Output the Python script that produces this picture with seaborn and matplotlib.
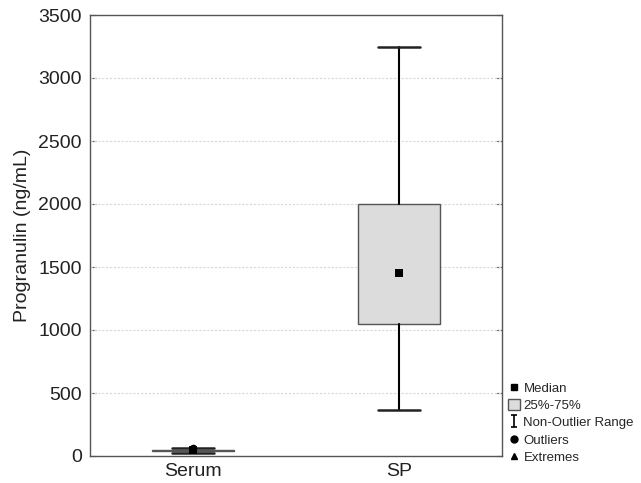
import matplotlib
matplotlib.use("Agg")
import matplotlib.pyplot as plt
import seaborn as sns
import numpy as np
import pandas as pd
from matplotlib.lines import Line2D
from matplotlib.patches import Patch
from matplotlib.path import Path

# ---- data ----
groups = ["Serum", "SP"]
medians = [44, 1450]
q1 = [38, 1050]
q3 = [48, 2000]
whisker_low = [22, 365]
whisker_high = [62, 3250]
outlier_group = ["Serum"]
outlier_values = [66]
y_ticks = [0, 500, 1000, 1500, 2000, 2500, 3000, 3500]
legend_labels = ["Median", "25%-75%", "Non-Outlier Range", "Outliers", "Extremes"]

sns.set_style("white")
plt.rcParams["font.family"] = ["Liberation Sans", "DejaVu Sans"]

fig = plt.figure(figsize=(6.41, 4.83), dpi=100)
ax = fig.add_axes([90 / 641, 1 - 456 / 483, 412 / 641, 441 / 483])

stats = []
for i, g in enumerate(groups):
    stats.append(dict(label=g, med=medians[i], q1=q1[i], q3=q3[i],
                      whislo=whisker_low[i], whishi=whisker_high[i], fliers=[]))

ax.bxp(stats, positions=range(len(groups)), widths=0.40, capwidths=0.20,
       patch_artist=True, showfliers=False,
       boxprops=dict(facecolor="#dcdcdc", edgecolor="#555555", linewidth=1.0),
       whiskerprops=dict(color="black", linewidth=1.5),
       capprops=dict(color="#222222", linewidth=1.8),
       medianprops=dict(linewidth=0, color="none"), zorder=3)

med_df = pd.DataFrame({"group": groups, "value": medians})
med_df["x"] = [groups.index(g) for g in med_df["group"]]
sns.scatterplot(data=med_df, x="x", y="value", marker="s", color="black",
                s=30, edgecolor="black", linewidth=0, ax=ax, zorder=5, legend=False)

out_df = pd.DataFrame({"group": outlier_group, "value": outlier_values})
out_df["x"] = [groups.index(g) for g in out_df["group"]]
sns.scatterplot(data=out_df, x="x", y="value", marker="o", color="black",
                s=30, linewidth=0, ax=ax, zorder=5, legend=False)

ax.set_xlim(-0.5, 1.5)
ax.set_ylim(0, 3500)
ax.set_yticks(y_ticks)
ax.set_xticks(range(len(groups)))
ax.set_xticklabels(groups)
ax.set_xlabel("")
ax.set_ylabel("Progranulin (ng/mL)", fontsize=14, color="#222222", labelpad=5)
ax.tick_params(axis="both", labelsize=14, colors="#222222")
ax.tick_params(axis="y", direction="in", length=4, right=True, left=True, color="#555555", pad=6)
ax.tick_params(axis="x", length=0, pad=5)

for y in y_ticks[1:-1]:
    ax.axhline(y, color="#d8d8d8", linestyle=(0, (2, 1.5)), linewidth=0.8, zorder=1)

for s in ax.spines.values():
    s.set_color("#555555")
    s.set_linewidth(1.0)

# legend
ibeam = Path([(0, -1), (0, 1), (-0.6, 1), (0.6, 1), (-0.6, -1), (0.6, -1)],
             [Path.MOVETO, Path.LINETO, Path.MOVETO, Path.LINETO, Path.MOVETO, Path.LINETO])
handles = [
    Line2D([], [], marker="s", color="black", linestyle="none", markersize=5),
    Patch(facecolor="#dcdcdc", edgecolor="#555555", linewidth=1),
    Line2D([], [], marker=ibeam, markerfacecolor="none", markeredgecolor="black",
           linestyle="none", markersize=8, markeredgewidth=1.2),
    Line2D([], [], marker="o", color="black", linestyle="none", markersize=5),
    Line2D([], [], marker="^", color="black", linestyle="none", markersize=5),
]
fig.legend(handles, legend_labels, loc="upper left", bbox_to_anchor=(505 / 641, 1 - 379 / 483),
           frameon=False, fontsize=9.5, handlelength=0.9, handleheight=0.9, handletextpad=0.3,
           labelspacing=0.33, borderaxespad=0, borderpad=0.2)

fig.savefig("out.png", dpi=100)
